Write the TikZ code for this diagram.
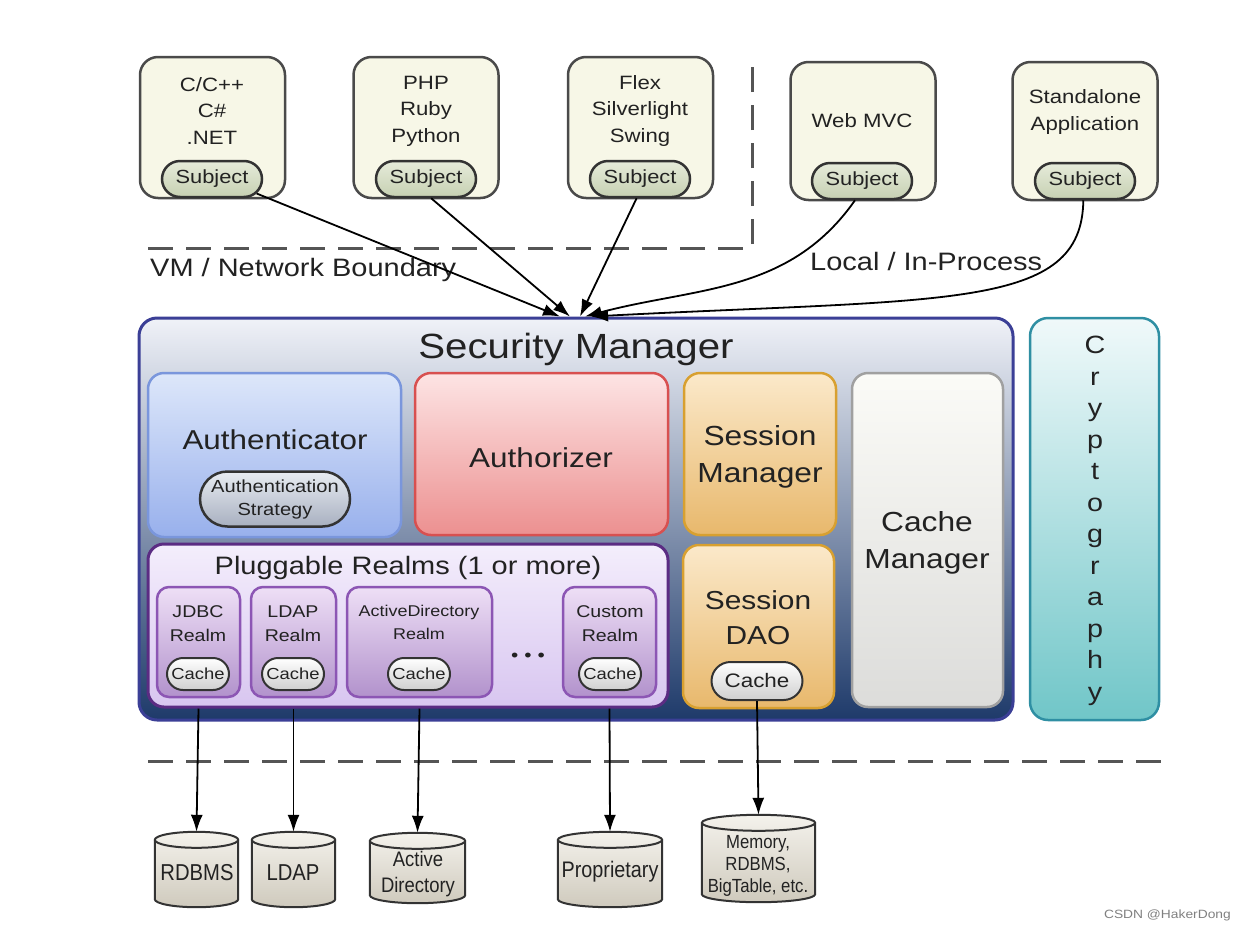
\documentclass[tikz,border=0pt]{standalone}
\usepackage{fontspec}
\setmainfont[FakeStretch=1.15]{Liberation Sans}
\newfontfamily\storefont[FakeStretch=0.88]{Liberation Sans}
\usetikzlibrary{shapes.misc, arrows.meta, calc}

\definecolor{clientfill}{HTML}{F7F7E7}
\definecolor{clientline}{HTML}{4A4A4A}
\definecolor{subjtop}{HTML}{E6EBDA}
\definecolor{subjbot}{HTML}{C6D0B2}
\definecolor{pillline}{HTML}{333333}
\definecolor{smline}{HTML}{3B3F96}
\definecolor{smtop}{HTML}{F0F2F8}
\definecolor{smmid}{HTML}{A4B0C0}
\definecolor{smbot}{HTML}{1E3A6A}
\definecolor{authtop}{HTML}{DDE7FA}
\definecolor{authbot}{HTML}{98B0EC}
\definecolor{authline}{HTML}{7A96DC}
\definecolor{azrtop}{HTML}{FDE4E4}
\definecolor{azrbot}{HTML}{EC9090}
\definecolor{azrline}{HTML}{D85050}
\definecolor{sesstop}{HTML}{FBE9CA}
\definecolor{sessbot}{HTML}{E8B86C}
\definecolor{sessline}{HTML}{D8A030}
\definecolor{cmtop}{HTML}{FBFBF7}
\definecolor{cmbot}{HTML}{DCDCDA}
\definecolor{cmline}{HTML}{A0A0A0}
\definecolor{plugtop}{HTML}{F4EEFC}
\definecolor{plugbot}{HTML}{D8C6F0}
\definecolor{plugline}{HTML}{5B2C83}
\definecolor{realmtop}{HTML}{EEDFF6}
\definecolor{realmbot}{HTML}{B292CC}
\definecolor{realmline}{HTML}{8C56B4}
\definecolor{cachebot}{HTML}{CFCFCF}
\definecolor{strattop}{HTML}{E8ECF2}
\definecolor{stratbot}{HTML}{A8B0C0}
\definecolor{cryptop}{HTML}{F0F9FA}
\definecolor{crypbot}{HTML}{70C6C8}
\definecolor{crypline}{HTML}{2F8FA3}
\definecolor{cyltop}{HTML}{F4F2EC}
\definecolor{cylbot}{HTML}{CFCABD}
\definecolor{ink}{HTML}{222222}
\definecolor{boundary}{HTML}{555555}

\tikzset{
  client/.style={draw=clientline, line width=2.5pt, fill=clientfill, rounded corners=18pt,
    minimum width=145pt, minimum height=141pt, inner sep=0pt},
  clienttxt/.style={align=center, text=ink, inner sep=0pt, font=\fontsize{19.3}{26.5}\selectfont},
  subj/.style={rounded rectangle, draw=pillline, line width=2.5pt, top color=subjtop, bottom color=subjbot,
    minimum width=100pt, minimum height=36pt, inner sep=0pt, text=ink, font=\fontsize{19}{21}\selectfont},
  part/.style={rounded corners=16pt, line width=2.5pt, inner sep=0pt},
  parttxt/.style={align=center, text=ink, inner sep=0pt, font=\fontsize{27.6}{37.5}\selectfont},
  realm/.style={part, rounded corners=12pt, draw=realmline, top color=realmtop, bottom color=realmbot,
    minimum height=110pt},
  realmtxt/.style={align=center, text=ink, inner sep=0pt, font=\fontsize{17}{24}\selectfont},
  cache/.style={rounded rectangle, draw=pillline, line width=2pt, top color=white, bottom color=cachebot,
    minimum width=62pt, minimum height=32pt, inner sep=0pt, text=ink, font=\fontsize{16}{18}\selectfont},
  storebox/.style={rectangle, inner sep=0pt},
  drumbody/.style={draw=pillline, line width=2pt, top color=cyltop, bottom color=cylbot},
  drumline/.style={draw=pillline, line width=2pt},
  storetxt/.style={align=center, text=ink, inner sep=0pt},
  link/.style={line width=1.8pt, -{Latex[length=17pt,width=12pt]}},
  fence/.style={boundary, line width=3pt, dash pattern=on 25pt off 13pt},
}

% drum round a named store box
\newcommand\drum[1]{%
  \path[drumbody] let \p1=(#1.north west), \p2=(#1.south east), \n1={(\x2-\x1)/2} in
    (\x1,\y1-8pt) -- (\x1,\y2+8pt) arc[start angle=180, end angle=360, x radius=\n1, y radius=8pt]
    -- (\x2,\y1-8pt) arc[start angle=0, end angle=180, x radius=\n1, y radius=8pt] -- cycle;
  \path[drumline] let \p1=(#1.north west), \p2=(#1.south east), \n1={(\x2-\x1)/2} in
    (\x1,\y1-8pt) arc[start angle=180, end angle=360, x radius=\n1, y radius=8pt];
}

\begin{document}
\begin{tikzpicture}[x=1pt, y=-1pt]
  \useasboundingbox (0,0) rectangle (1246,932);

  % clients
  \node[client] (cpp) at (212.5,127.5) {};
  \node[clienttxt] (cpptxt) at (212,111) {C/C++\\C\#\\.NET};
  \node[subj] (cppsub) at (212,179) {Subject};

  \node[client] (php) at (426,127.5) {};
  \node[clienttxt] (phptxt) at (426,111) {PHP\\Ruby\\Python};
  \node[subj] (phpsub) at (426,179) {Subject};

  \node[client] (flex) at (640.5,127.5) {};
  \node[clienttxt] (flextxt) at (640,111) {Flex\\Silverlight\\Swing};
  \node[subj] (flexsub) at (640,179) {Subject};

  \node[client, minimum height=138pt] (web) at (863,131) {};
  \node[clienttxt] (webtxt) at (862,121) {Web MVC};
  \node[subj] (websub) at (862,181) {Subject};

  \node[client, minimum height=138pt] (std) at (1085,131) {};
  \node[clienttxt] (stdtxt) at (1085,112) {Standalone\\Application};
  \node[subj] (stdsub) at (1085,181) {Subject};

  % boundaries
  \draw[fence] (148,248) -- (752,248) -- (752,62);
  \draw[fence] (148,761) -- (1165,761);
  \node[anchor=west, text=ink, inner sep=0pt, font=\fontsize{25.2}{27}\selectfont] (vm) at (150,270) {VM / Network Boundary};
  \node[anchor=west, text=ink, inner sep=0pt, font=\fontsize{25.2}{27}\selectfont] (local) at (810,261) {Local / In-Process};

  % security manager
  \node[part, rounded corners=18pt, line width=3pt, draw=smline, top color=smtop, middle color=smmid, bottom color=smbot,
    minimum width=874pt, minimum height=402pt] (sm) at (576,519) {};
  \node[text=ink, inner sep=0pt, font=\fontsize{35}{40}\selectfont] (smtxt) at (576,349) {Security Manager};

  % authenticator
  \node[part, draw=authline, top color=authtop, bottom color=authbot, minimum width=253pt, minimum height=164pt] (auth) at (274.5,455) {};
  \node[parttxt, font=\fontsize{27.3}{34}\selectfont] (authtxt) at (275,440) {Authenticator};
  \node[rounded rectangle, draw=pillline, line width=2.5pt, top color=strattop, bottom color=stratbot,
    minimum width=150pt, minimum height=55pt, inner sep=0pt, align=center, text=ink,
    font=\fontsize{17.5}{23}\selectfont] (strat) at (275,499) {Authentication\\Strategy};

  % authorizer
  \node[part, draw=azrline, top color=azrtop, bottom color=azrbot, minimum width=253pt, minimum height=162pt] (azr) at (541.5,454) {};
  \node[parttxt, font=\fontsize{27.4}{34}\selectfont] (azrtxt) at (541,458) {Authorizer};

  % session manager
  \node[part, draw=sessline, top color=sesstop, bottom color=sessbot, minimum width=152pt, minimum height=162pt] (sess) at (760,454) {};
  \node[parttxt] (sesstxt) at (760,457) {Session\\Manager};

  % cache manager
  \node[part, draw=cmline, top color=cmtop, bottom color=cmbot, minimum width=151pt, minimum height=334pt] (cm) at (927.5,540) {};
  \node[parttxt] (cmtxt) at (927,543) {Cache\\Manager};

  % session dao
  \node[part, draw=sessline, top color=sesstop, bottom color=sessbot, minimum width=151pt, minimum height=163pt] (dao) at (758.5,626.5) {};
  \node[parttxt, font=\fontsize{26}{35}\selectfont] (daotxt) at (758,618) {Session\\DAO};
  \node[cache, minimum width=91pt, minimum height=38pt, font=\fontsize{19.5}{22}\selectfont] (daocache) at (757,681) {Cache};

  % pluggable realms
  \node[part, line width=3pt, draw=plugline, top color=plugtop, bottom color=plugbot, minimum width=520pt, minimum height=163pt] (plug) at (408,625.5) {};
  \node[text=ink, inner sep=0pt, font=\fontsize{25.2}{27}\selectfont] (plugtxt) at (408,568) {Pluggable Realms (1 or more)};

  \node[realm, minimum width=83pt] (jdbc) at (198.5,642) {};
  \node[realmtxt] (jdbctxt) at (198,624) {JDBC\\Realm};
  \node[cache] (jdbccache) at (198,674) {Cache};

  \node[realm, minimum width=85pt] (ldap) at (293.5,642) {};
  \node[realmtxt] (ldaptxt) at (293,624) {LDAP\\Realm};
  \node[cache] (ldapcache) at (293,674) {Cache};

  \node[realm, minimum width=145pt] (ad) at (419.5,642) {};
  \node[realmtxt, font=\fontsize{15.6}{23}\selectfont] (adtxt) at (419,622) {ActiveDirectory\\Realm};
  \node[cache] (adcache) at (419,674) {Cache};

  \node[text=ink, inner sep=0pt, font=\fontsize{18}{20}\selectfont] (dots) at (528,657) {\textbullet\hspace{6pt}\textbullet\hspace{6pt}\textbullet};

  \node[realm, minimum width=93pt] (custom) at (609.5,642) {};
  \node[realmtxt] (customtxt) at (610,624) {Custom\\Realm};
  \node[cache] (customcache) at (610,674) {Cache};

  % cryptography
  \node[part, rounded corners=18pt, draw=crypline, top color=cryptop, bottom color=crypbot, minimum width=129pt, minimum height=402pt] (cryp) at (1094.5,519) {};
  \node[align=center, text=ink, inner sep=0pt, font=\fontsize{25}{31.5}\selectfont] (cryptxt) at (1095,521)
    {C\\r\\y\\p\\t\\o\\g\\r\\a\\p\\h\\y};

  % data stores
  \node[storebox, minimum width=83pt, minimum height=75pt] (rdbms) at (196.5,869.5) {};
  \drum{rdbms}
  \node[storetxt, font=\storefont\fontsize{23}{26}\selectfont] (rdbmstxt) at (197,873) {RDBMS};

  \node[storebox, minimum width=83pt, minimum height=75pt] (ldapdb) at (293.5,869.5) {};
  \drum{ldapdb}
  \node[storetxt, font=\storefont\fontsize{23}{26}\selectfont] (ldapdbtxt) at (293,873) {LDAP};

  \node[storebox, minimum width=95pt, minimum height=70pt] (addb) at (417.5,868) {};
  \drum{addb}
  \node[storetxt, font=\storefont\fontsize{21}{26}\selectfont] (addbtxt) at (418,874) {Active\\Directory};

  \node[storebox, minimum width=104pt, minimum height=75pt] (prop) at (610,869.5) {};
  \drum{prop}
  \node[storetxt, font=\storefont\fontsize{22.5}{26}\selectfont] (proptxt) at (610,872) {Proprietary};

  \node[storebox, minimum width=113pt, minimum height=87pt] (mem) at (758.5,858.5) {};
  \drum{mem}
  \node[storetxt, font=\storefont\fontsize{19}{22}\selectfont] (memtxt) at (758,866) {Memory,\\RDBMS,\\BigTable, etc.};

  % links to security manager
  \draw[link] (cppsub.-18) -- ([xshift=-16pt]sm.north);
  \draw[link] (phpsub.-75) -- ([xshift=-6pt]sm.north);
  \draw[link] (flexsub.-100) -- ([xshift=4pt]sm.north);
  \draw[link] (websub.-110) to[out=-125, in=15] ([xshift=9pt]sm.north);
  \draw[link] (stdsub.-95) .. controls (1082,310) and (950,298) .. ([xshift=15pt]sm.north);

  % links to data stores
  \draw[link] (jdbc.south |- plug.south) -- (rdbms.north);
  \draw[link] (ldap.south |- plug.south) -- (ldapdb.north);
  \draw[link] (ad.south |- plug.south) -- (addb.north);
  \draw[link] (custom.south |- plug.south) -- (prop.north);
  \draw[link] (daocache.south) -- (mem.north);

  \node[anchor=east, text=gray, inner sep=0pt, font=\fontsize{12}{14}\selectfont] (mark) at (1231,915) {CSDN @HakerDong};
\end{tikzpicture}
\end{document}
